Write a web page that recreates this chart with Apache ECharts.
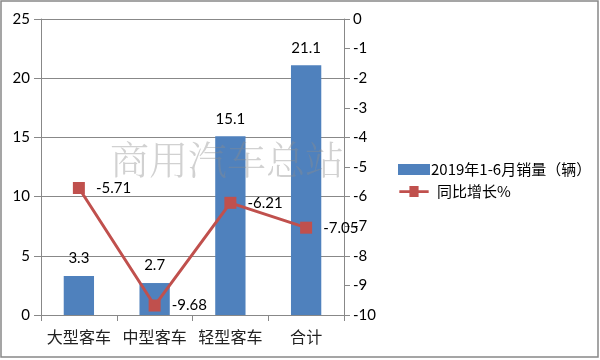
<!DOCTYPE html>
<html><head><meta charset="utf-8">
<script src="https://cdn.jsdelivr.net/npm/echarts@6/dist/echarts.min.js"></script>
<style>html,body{margin:0;padding:0;background:#fff}#c{width:600px;height:360px}</style>
</head><body><div id="c"></div>
<script>
const categories = ['大型客车', '中型客车', '轻型客车', '合计'];
const salesValues = [3.3, 2.7, 15.1, 21.1];
const growthValues = [-5.71, -9.68, -6.21, -7.05];
const leftTicks = [0, 25, 5];
const rightTicks = [-10, 0, 1];
const salesName = '2019年1-6月销量（辆）';
const growthName = '同比增长%';

const numFont = 'Lato, "Liberation Sans", sans-serif';
const cjkFont = '"Noto Sans CJK SC", sans-serif';
const chart = echarts.init(document.getElementById('c'), null, {renderer: 'canvas'});
chart.setOption({
  animation: false,
  backgroundColor: '#fff',
  grid: {left: 41, right: 256, top: 19, bottom: 45, containLabel: false},
  legend: {
    orient: 'vertical', left: 393, top: 157, itemGap: 7,
    itemWidth: 32, itemHeight: 11,
    textStyle: {fontFamily: cjkFont, fontSize: 15, color: '#000', padding: [0, 0, 0, -4]},
    data: [
      {name: salesName, icon: 'rect'},
      {name: growthName, icon: 'path://M0,4.5H11V0H21V4.5H32V7.5H21V12H11V7.5H0Z', itemStyle: {color: '#c0504d'}, textStyle: {padding: [0, 0, 0, 2]}}
    ]
  },
  xAxis: {
    type: 'category', data: categories,
    axisLine: {lineStyle: {color: '#888', width: 1}},
    axisTick: {show: true, length: 6, lineStyle: {color: '#888'}},
    axisLabel: {interval: 0, fontFamily: cjkFont, fontSize: 16, color: '#222', margin: 14}
  },
  yAxis: [
    {type: 'value', min: leftTicks[0], max: leftTicks[1], interval: leftTicks[2],
     axisLine: {show: true, lineStyle: {color: '#888'}},
     axisTick: {show: true, length: 7, lineStyle: {color: '#888'}},
     splitLine: {lineStyle: {color: '#888', width: 1}},
     axisLabel: {fontFamily: numFont, fontSize: 15, color: '#000', margin: 11}},
    {type: 'value', min: rightTicks[0], max: rightTicks[1], interval: rightTicks[2],
     position: 'right',
     axisLine: {show: true, lineStyle: {color: '#888'}},
     axisTick: {show: true, length: 6, lineStyle: {color: '#888'}},
     splitLine: {show: false},
     axisLabel: {fontFamily: numFont, fontSize: 15, color: '#000', margin: 9}}
  ],
  series: [
    {name: salesName, type: 'bar', data: salesValues, barWidth: '40%',
     itemStyle: {color: '#4f81bd'},
     label: {show: true, position: 'top', distance: 10, fontFamily: numFont, fontSize: 15, color: '#000'}},
    {name: growthName, type: 'line', yAxisIndex: 1, data: growthValues,
     symbol: 'rect', symbolSize: 12,
     lineStyle: {color: '#c0504d', width: 3},
     itemStyle: {color: '#c0504d'},
     label: {show: true, position: 'right', distance: 11, fontFamily: numFont, fontSize: 15, color: '#000'}}
  ],
  graphic: [
    {type: 'text', left: 110, top: 140, z: 100, silent: true,
     style: {text: '商用汽车总站', fontFamily: '"Noto Serif CJK SC", serif, ' + cjkFont, fontSize: 39, fontWeight: 300,
             fill: 'rgba(140,140,140,0.4)'}},
    {type: 'rect', shape: {x: 1, y: 1, width: 597, height: 356}, z: 100, silent: true,
     style: {fill: 'none', stroke: '#888', lineWidth: 1.5}}
  ]
});
</script></body></html>
